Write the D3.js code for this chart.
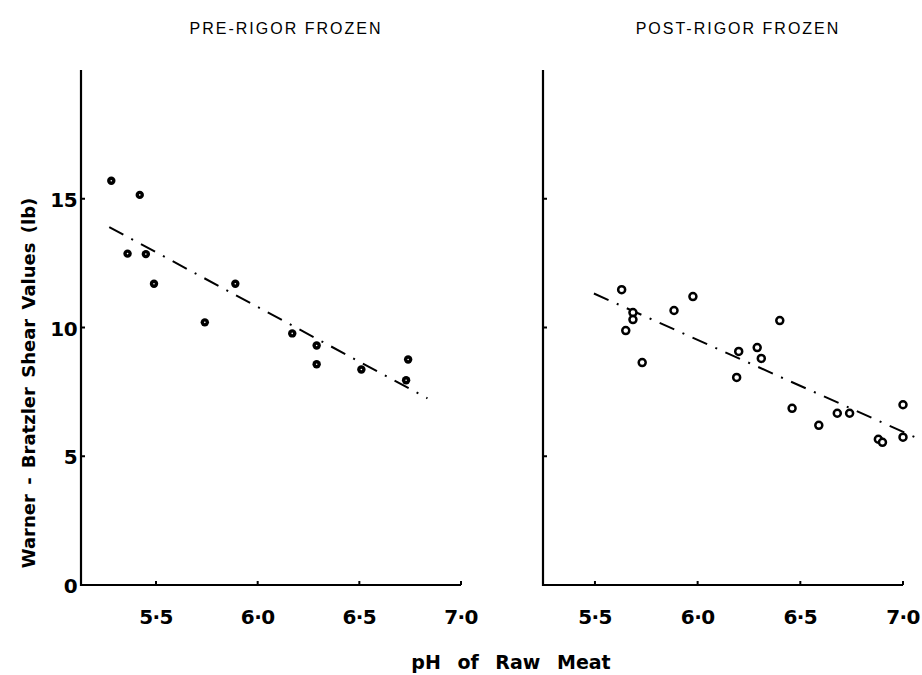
<!DOCTYPE html>
<html>
<head>
<meta charset="utf-8">
<script src="https://cdn.jsdelivr.net/npm/d3@7"></script>
<style>
  body { margin: 0; background: #fff; }
  .title { font-family: "Liberation Sans", Arial, sans-serif; font-size: 16px; letter-spacing: 2px; }
  .tick-label { font-family: "DejaVu Sans", sans-serif; font-weight: bold; font-size: 20px; letter-spacing: -0.6px; }
  .axis-label { font-family: "DejaVu Sans", sans-serif; font-weight: bold; font-size: 18px; }
</style>
</head>
<body>
<div id="chartDiv"></div>
<script>
var width = 922;
var height = 675;

// pre-rigor frozen (filled dots)
var prePH    = [5.28, 5.42, 5.36, 5.45, 5.49, 5.74, 5.89, 6.17, 6.29, 6.29, 6.51, 6.74, 6.73];
var preShear = [15.7, 15.15, 12.87, 12.85, 11.7, 10.2, 11.7, 9.77, 9.3, 8.57, 8.37, 8.76, 7.95];
var preLine  = [[5.27, 13.9], [6.835, 7.25]];

// post-rigor frozen (open circles)
var postPH    = [5.63, 5.685, 5.685, 5.65, 5.73, 5.885, 5.977, 6.2, 6.29, 6.31, 6.19,
                 6.4, 6.46, 6.59, 6.68, 6.74, 6.88, 6.9, 7.0, 7.0];
var postShear = [11.47, 10.58, 10.31, 9.88, 8.64, 10.66, 11.2, 9.07, 9.22, 8.8, 8.06,
                 10.27, 6.86, 6.2, 6.67, 6.67, 5.66, 5.54, 7.0, 5.74];
var postLine  = [[5.495, 11.32], [7.07, 5.7]];

var xTicks = [5.5, 6.0, 6.5, 7.0];
var xTickText = ["5\u00b75", "6\u00b70", "6\u00b75", "7\u00b70"];
var yTicks = [0, 5, 10, 15];

var panels = [
    { title: "PRE-RIGOR FROZEN", left: 81, right: 461, xMin: 5.131, xMax: 7.0, ph: prePH, shear: preShear, line: preLine, open: false, yLabels: true },
    { title: "POST-RIGOR FROZEN", left: 543, right: 903, xMin: 5.247, xMax: 7.0, ph: postPH, shear: postShear, line: postLine, open: true, yLabels: false }
];

var plotTop = 70, plotBottom = 585;

var chart = d3.select("#chartDiv").append("svg")
    .attr("width", width)
    .attr("height", height);

var y = d3.scaleLinear().domain([0, 20]).range([plotBottom, plotTop]);

panels.forEach(function(p) {
    var x = d3.scaleLinear().domain([p.xMin, p.xMax]).range([p.left, p.right]);
    var g = chart.append("g");

    // frame: y axis + x axis
    g.append("path")
        .attr("d", "M" + p.left + "," + plotTop + "V" + plotBottom + "H" + p.right)
        .attr("fill", "none")
        .attr("stroke", "#000")
        .attr("stroke-width", 2.2);

    // y ticks (inward)
    g.selectAll(".ytick").data(yTicks.filter(function(d) { return d > 0; }))
        .enter().append("line")
        .attr("x1", p.left).attr("x2", p.left + 4)
        .attr("y1", function(d) { return y(d); }).attr("y2", function(d) { return y(d); })
        .attr("stroke", "#000").attr("stroke-width", 2);

    if (p.yLabels) {
        g.selectAll(".ylab").data(yTicks)
            .enter().append("text")
            .attr("class", "tick-label")
            .attr("text-anchor", "end")
            .attr("x", p.left - 4)
            .attr("y", function(d) { return y(d) + 8; })
            .text(function(d) { return d; });
    }

    // x ticks (inward)
    g.selectAll(".xtick").data(xTicks)
        .enter().append("line")
        .attr("x1", function(d) { return x(d); }).attr("x2", function(d) { return x(d); })
        .attr("y1", plotBottom).attr("y2", plotBottom - 4)
        .attr("stroke", "#000").attr("stroke-width", 2);

    g.selectAll(".xlab").data(xTicks)
        .enter().append("text")
        .attr("class", "tick-label")
        .attr("text-anchor", "middle")
        .attr("x", function(d) { return x(d); })
        .attr("y", 624)
        .text(function(d, i) { return xTickText[i]; });

    // title
    g.append("text")
        .attr("class", "title")
        .attr("text-anchor", "middle")
        .attr("x", (p.left + p.right) / 2 + 15)
        .attr("y", 34)
        .text(p.title);

    // regression line, dash-dot
    g.append("line")
        .attr("x1", x(p.line[0][0])).attr("y1", y(p.line[0][1]))
        .attr("x2", x(p.line[1][0])).attr("y2", y(p.line[1][1]))
        .attr("stroke", "#000")
        .attr("stroke-width", 2)
        .attr("stroke-dasharray", "16,9,2,9");

    // points
    var pts = p.ph.map(function(v, i) { return { ph: v, shear: p.shear[i] }; });
    g.selectAll(".dot").data(pts)
        .enter().append("circle")
        .attr("cx", function(d) { return x(d.ph); })
        .attr("cy", function(d) { return y(d.shear); })
        .attr("r", p.open ? 3.5 : 4.2)
        .attr("fill", p.open ? "#fff" : "#000")
        .attr("stroke", p.open ? "#000" : "none")
        .attr("stroke-width", 2.5);
    if (!p.open) {
        g.selectAll(".dotc").data(pts)
            .enter().append("circle")
            .attr("cx", function(d) { return x(d.ph); })
            .attr("cy", function(d) { return y(d.shear); })
            .attr("r", 0.8)
            .attr("fill", "#fff");
    }
});

// axis headers
chart.append("text")
    .attr("class", "axis-label")
    .attr("text-anchor", "middle")
    .attr("transform", "translate(35,383) rotate(-90)")
    .style("word-spacing", "3px")
    .text("Warner - Bratzler Shear Values  (lb)");

chart.append("text")
    .attr("class", "axis-label")
    .attr("text-anchor", "middle")
    .attr("x", 511)
    .attr("y", 669)
    .style("font-size", "19px")
    .style("word-spacing", "10px")
    .text("pH of Raw Meat");
</script>
</body>
</html>
